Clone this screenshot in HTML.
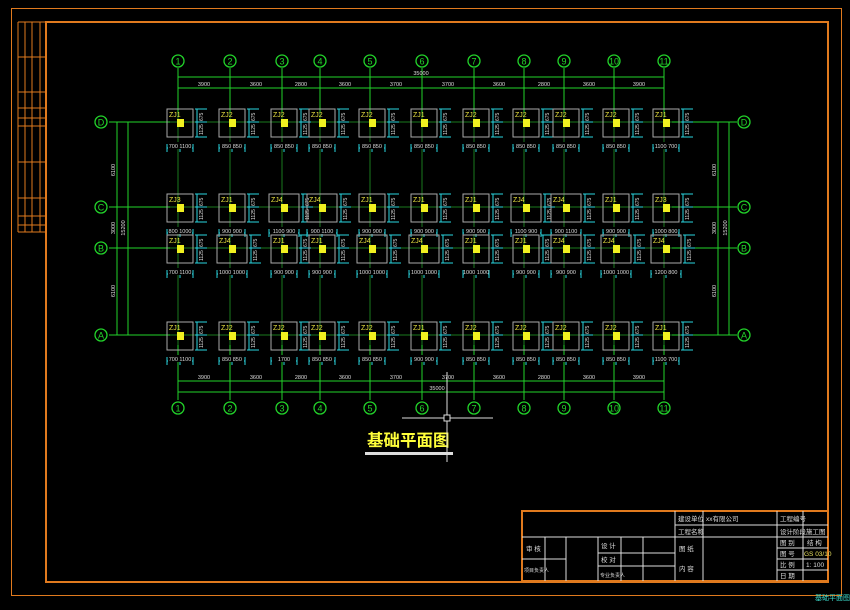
<!DOCTYPE html>
<html><head><meta charset="utf-8"><style>
html,body{margin:0;padding:0;background:#000;width:850px;height:610px;overflow:hidden}
svg{display:block}
text{font-family:"Liberation Sans","Noto Sans CJK SC",sans-serif}
</style></head><body>
<svg id="s" width="850" height="610" viewBox="0 0 850 610" xmlns="http://www.w3.org/2000/svg">
<rect width="850" height="610" fill="#000"/>
<rect x="11.5" y="8.5" width="830" height="587" fill="none" stroke="#e07a1e" stroke-width="1"/>
<rect x="46" y="22" width="782" height="560" fill="none" stroke="#e07a1e" stroke-width="2"/>
<g stroke="#e07a1e" stroke-width="1" fill="none">
<line x1="18" y1="22" x2="18" y2="232"/><line x1="25" y1="22" x2="25" y2="232"/><line x1="32" y1="22" x2="32" y2="232"/><line x1="40" y1="22" x2="40" y2="232"/>
<line x1="18" y1="22" x2="46" y2="22"/><line x1="18" y1="57" x2="46" y2="57"/><line x1="18" y1="92" x2="46" y2="92"/><line x1="18" y1="108" x2="46" y2="108"/><line x1="18" y1="118" x2="46" y2="118"/><line x1="18" y1="126" x2="46" y2="126"/>
<line x1="18" y1="162" x2="46" y2="162"/><line x1="18" y1="198" x2="46" y2="198"/><line x1="18" y1="216" x2="46" y2="216"/><line x1="18" y1="225" x2="46" y2="225"/><line x1="18" y1="232" x2="46" y2="232"/>
</g>
<g id="g"></g>
<text x="367" y="446" font-size="16.5" font-weight="bold" fill="#ffff3a">基础平面图</text>
<rect x="365" y="452" width="88" height="3" fill="#ddd"/>
<g stroke="#ddd" stroke-width="1"><line x1="402" y1="418" x2="493" y2="418"/><line x1="447" y1="372" x2="447" y2="462"/></g>
<rect x="444" y="415" width="6" height="6" fill="#000" stroke="#ddd"/>
<g stroke="#ddd" stroke-width="1" fill="none">
<rect x="522" y="511" width="306" height="70" stroke="#e07a1e" stroke-width="2"/>
<line x1="675" y1="511" x2="675" y2="581"/><line x1="703" y1="511" x2="703" y2="581"/><line x1="777" y1="511" x2="777" y2="581"/><line x1="803" y1="511" x2="803" y2="581"/>
<line x1="675" y1="525" x2="828" y2="525"/><line x1="522" y1="537" x2="828" y2="537"/>
<line x1="777" y1="548" x2="828" y2="548"/><line x1="777" y1="559" x2="828" y2="559"/><line x1="777" y1="570" x2="828" y2="570"/>
<line x1="522" y1="559" x2="566" y2="559"/><line x1="598" y1="553" x2="675" y2="553"/><line x1="598" y1="566" x2="675" y2="566"/>
<line x1="545" y1="537" x2="545" y2="581"/><line x1="566" y1="537" x2="566" y2="581"/><line x1="598" y1="537" x2="598" y2="581"/><line x1="621" y1="537" x2="621" y2="581"/><line x1="643" y1="537" x2="643" y2="581"/>
</g>
<g fill="#ddd" font-size="6.5">
<text x="678" y="521">建设单位</text><text x="706" y="521">xx有限公司</text><text x="780" y="521">工程编号</text>
<text x="678" y="534">工程名称</text><text x="780" y="534">设计阶段</text><text x="806" y="534">施工图</text>
<text x="780" y="545">图 别</text><text x="807" y="545">结 构</text>
<text x="780" y="556">图 号</text><text x="804" y="556" fill="#e8e060">GS 03/10</text>
<text x="780" y="567">比 例</text><text x="806" y="567">1: 100</text>
<text x="780" y="578">日 期</text>
<text x="526" y="551">审 核</text><text x="524" y="572" font-size="5">项目负责人</text>
<text x="601" y="548">设 计</text><text x="601" y="562">校 对</text><text x="600" y="577" font-size="5">专业负责人</text>
<text x="679" y="551">图 纸</text><text x="679" y="571">内 容</text>
</g>
<text x="815" y="600" font-size="7" fill="#3de0d0">基础平面图</text>
</svg>
<script>
var g=document.getElementById('g'),h='';
var X=[178,230,282,320,370,422,474,524,564,614,664],Y=[122,207,248,335],R=['D','C','B','A'];
var G='#22d32a',DG='#1a7a1e',C='#2ad6e0';
function L(a,b,c,d,col,w){h+='<line x1="'+a+'" y1="'+b+'" x2="'+c+'" y2="'+d+'" stroke="'+col+'" stroke-width="'+(w||1)+'"/>';}
function T(x,y,s,col,fs,anc,rot){h+='<text x="'+x+'" y="'+y+'" font-size="'+fs+'" fill="'+col+'"'+(anc?' text-anchor="'+anc+'"':'')+(rot?' transform="rotate(-90 '+x+' '+y+')"':'')+'>'+s+'</text>';}
X.forEach(function(x){L(x,68,x,112,G);L(x,112,x,345,DG);L(x,345,x,400,G);});
Y.forEach(function(y,i){L(109,y,170,y,G);L(170,y,672,y,DG);L(672,y,737,y,G);});
L(178,77,664,77,G);L(178,88,664,88,G);L(178,381,664,381,G);L(178,392,664,392,G);
L(117,122,117,335,G);L(128,122,128,335,G);L(718,122,718,335,G);L(729,122,729,335,G);
var dims=['3900','3600','2800','3600','3700','3700','3600','2800','3600','3900'];
for(var i=0;i<10;i++){var m=(X[i]+X[i+1])/2;T(m,86,dims[i],'#ddd',5.5,'middle');T(m,379,dims[i],'#ddd',5.5,'middle');}
T(421,75,'35000','#ddd',5.5,'middle');T(437,390,'35000','#ddd',5.5,'middle');
T(115,170,'6100','#ddd',5.5,'middle',1);T(115,228,'3000','#ddd',5.5,'middle',1);T(115,291,'6100','#ddd',5.5,'middle',1);T(125,228,'15200','#ddd',5.5,'middle',1);
T(716,170,'6100','#ddd',5.5,'middle',1);T(716,228,'3000','#ddd',5.5,'middle',1);T(716,291,'6100','#ddd',5.5,'middle',1);T(727,228,'15200','#ddd',5.5,'middle',1);
function B(x,y,s){h+='<circle cx="'+x+'" cy="'+y+'" r="6" fill="none" stroke="'+G+'" stroke-width="1.3"/>';T(x,y+3.5,s,G,9,'middle');}
X.forEach(function(x,i){B(x,61,i+1);B(x,408,i+1);});
Y.forEach(function(y,i){B(101,y,R[i]);B(744,y,R[i]);});
var lab=[[1,2,2,2,2,1,2,2,2,2,1],[3,1,4,4,1,1,1,4,4,1,3],[1,4,1,1,4,4,1,1,4,4,4],[1,2,2,2,2,1,2,2,2,2,1]];
var bd=[['700 1100','850 850','850 850','850 850','850 850','850 850','850 850','850 850','850 850','850 850','1100 700'],
['800 1000','900 900','1100 900','900 1100','900 900','900 900','900 900','1100 900','900 1100','900 900','1000 800'],
['700 1100','1000 1000','900 900','900 900','1000 1000','1000 1000','1000 1000','900 900','900 900','1000 1000','1200 800'],
['700 1100','850 850','1700','850 850','850 850','900 900','850 850','850 850','850 850','850 850','1100 700']];
Y.forEach(function(y,r){X.forEach(function(x,c){
 var w=(lab[r][c]==4?30:26),x0=x+2-w/2,y0=y-13;
 h+='<rect x="'+x0+'" y="'+y0+'" width="'+w+'" height="28" fill="none" stroke="#aaa" stroke-width="1"/>';
 T(x0+2,y0+8,'ZJ'+lab[r][c],'#e8e040',7);
 h+='<rect x="'+(x-1)+'" y="'+(y-3)+'" width="7" height="8" fill="#f0f020"/>';
 var rx=x0+w+4;L(rx,y0,rx,y0+28,C);L(rx-2,y0,rx+10,y0,C);L(rx-2,y0+28,rx+10,y0+28,C);L(rx-2,y,rx+10,y,C);
 T(rx+6,y0+26,'1125','#ddd',5,null,1);T(rx+6,y-1,'675','#ddd',5,null,1);
 var by=y0+35;L(x0,by+4,x0+w,by+4,C);L(x0,by,x0,by+8,C);L(x0+w,by,x0+w,by+8,C);L(x+2,by,x+2,by+8,C);
 h+='<rect x="'+(x0+1)+'" y="'+(by-2)+'" width="'+(w-2)+'" height="7" fill="#000"/>';
 T(x+2,by+4,bd[r][c],'#ddd',5.5,'middle');
});});
g.innerHTML=h;
</script>
</body></html>
